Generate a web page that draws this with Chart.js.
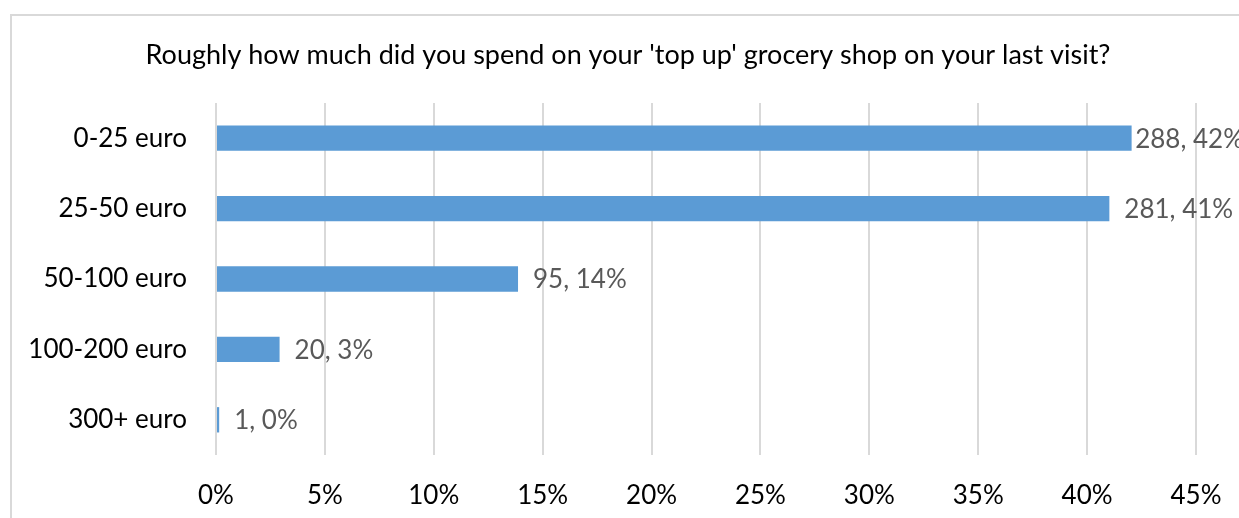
<!DOCTYPE html>
<html>
<head>
  <title>Top up grocery spend</title>
  <script src="https://cdn.jsdelivr.net/npm/chart.js"></script>
  <style>
    html, body {
      margin: 0;
      padding: 0;
      background: #ffffff;
      overflow: hidden;
    }
    .frame {
      position: absolute;
      left: 10px;
      top: 14px;
      width: 1237px;
      height: 700px;
      border: 2px solid #d9d9d9;
      box-sizing: border-box;
    }
    .chart-box {
      position: absolute;
      left: 0;
      top: 0;
      width: 1239px;
      height: 518px;
    }
  </style>
</head>
<body>
  <div class="frame"></div>
  <div class="chart-box">
    <canvas id="spendChart" width="1239" height="518"></canvas>
  </div>

  <script>
    const chartTitle = "Roughly how much did you spend on your 'top up' grocery shop on your last visit?";
    const categories = ['0-25 euro', '25-50 euro', '50-100 euro', '100-200 euro', '300+ euro'];
    const responses = [288, 281, 95, 20, 1];
    const axisMax = 45;
    const axisStep = 5;

    const FONT = 'Lato, "Open Sans", sans-serif';

    // share of all answers, in percent
    const total = responses.reduce((a, b) => a + b, 0);
    const shares = responses.map(n => n / total * 100);

    // title centred over the whole frame (which runs past the right edge)
    const frameTitle = {
      id: 'frameTitle',
      afterDraw(chart) {
        const ctx = chart.ctx;
        ctx.save();
        ctx.font = '27px ' + FONT;
        ctx.fillStyle = '#000000';
        ctx.textAlign = 'center';
        ctx.textBaseline = 'middle';
        ctx.fillText(chartTitle, 628, 55);
        ctx.restore();
      }
    };

    // "count, pct%" drawn just past the end of each bar
    const barLabels = {
      id: 'barLabels',
      afterDatasetsDraw(chart) {
        const ctx = chart.ctx;
        const meta = chart.getDatasetMeta(0);
        ctx.save();
        ctx.font = '26px ' + FONT;
        ctx.fillStyle = '#595959';
        ctx.textBaseline = 'middle';
        ctx.textAlign = 'left';
        meta.data.forEach((bar, i) => {
          const text = responses[i] + ', ' + Math.round(shares[i]) + '%';
          const w = ctx.measureText(text).width;
          // keep the longest label from running off the right edge
          const x = Math.min(bar.x + 15, 1244 - w);
          ctx.fillText(text, x, bar.y + 1);
        });
        ctx.restore();
      }
    };

    new Chart(document.getElementById('spendChart'), {
      type: 'bar',
      data: {
        labels: categories,
        datasets: [{
          data: shares,
          backgroundColor: '#5b9bd5',
          borderWidth: 0,
          categoryPercentage: 1,
          barPercentage: 0.36
        }]
      },
      options: {
        indexAxis: 'y',
        responsive: false,
        animation: false,
        layout: { padding: { left: 0, right: 43, top: 103, bottom: 0 } },
        plugins: {
          legend: { display: false },
          tooltip: { enabled: false },
          title: { display: false }
        },
        scales: {
          x: {
            min: 0,
            max: axisMax,
            position: 'bottom',
            afterFit(scale) {
              scale.height = 63;
              scale.paddingLeft = 0;
              scale.paddingRight = 0;
            },
            ticks: {
              stepSize: axisStep,
              color: '#000000',
              font: { family: FONT, size: 26 },
              padding: 25,
              callback: v => v + '%'
            },
            grid: { color: '#d9d9d9', lineWidth: 2, drawTicks: false },
            border: { display: false }
          },
          y: {
            afterFit(scale) { scale.width = 216; },
            ticks: {
              color: '#000000',
              font: { family: FONT, size: 26 },
              padding: 29
            },
            grid: { display: false, drawTicks: false },
            border: { display: false }
          }
        }
      },
      plugins: [barLabels, frameTitle]
    });
  </script>
</body>
</html>
